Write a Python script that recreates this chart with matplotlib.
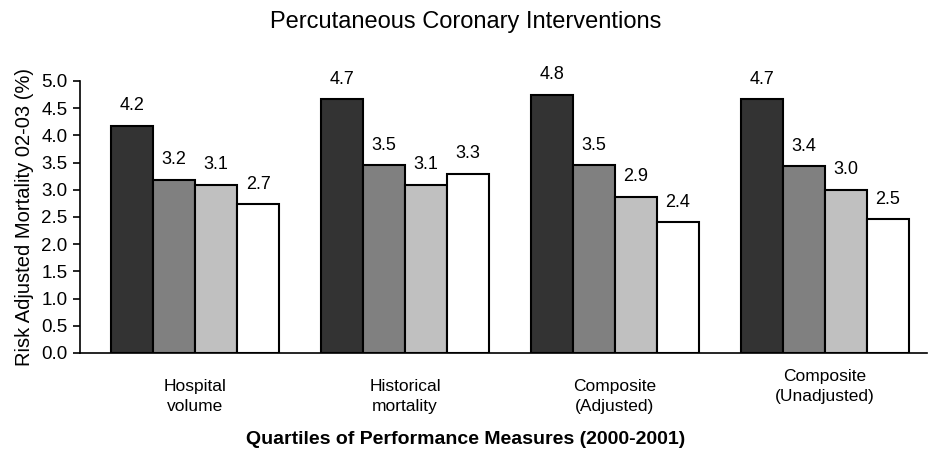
import matplotlib
matplotlib.use("Agg")
import matplotlib.pyplot as plt
import matplotlib.transforms as mtransforms
import numpy as np

plt.rcParams['font.family'] = ['Liberation Sans', 'DejaVu Sans']

# data
groups = ["Hospital\nvolume", "Historical\nmortality", "Composite\n(Adjusted)", "Composite\n(Unadjusted)"]
q1 = [4.18, 4.66, 4.75, 4.66]
q2 = [3.18, 3.45, 3.45, 3.43]
q3 = [3.09, 3.09, 2.87, 3.00]
q4 = [2.73, 3.29, 2.40, 2.46]
q1_lab = [4.2, 4.7, 4.8, 4.7]
q2_lab = [3.2, 3.5, 3.5, 3.4]
q3_lab = [3.1, 3.1, 2.9, 3.0]
q4_lab = [2.7, 3.3, 2.4, 2.5]

colors = ["#333333", "#808080", "#c0c0c0", "#ffffff"]

fig = plt.figure(figsize=(9.32, 4.55), dpi=100)
ax = fig.add_axes([0.0858, 0.2242, 0.9088, 0.5978])

x = np.arange(len(groups))
w = 0.2
series = [(q1, q1_lab), (q2, q2_lab), (q3, q3_lab), (q4, q4_lab)]
for i, (vals, labs) in enumerate(series):
    pos = x + (i - 1.5) * w
    ax.bar(pos, vals, width=w, color=colors[i], edgecolor="black", linewidth=1.5, zorder=2)
    for px, v, l in zip(pos, vals, labs):
        ax.annotate("%.1f" % l, (px, v), xytext=(0, 14.5), textcoords="offset points",
                    ha="center", va="center", fontsize=13)

ax.set_xlim(-0.548, 3.486)
ax.set_ylim(0, 5)
ax.set_yticks(np.arange(0, 5.01, 0.5))
ax.set_yticklabels(["%.1f" % t for t in np.arange(0, 5.01, 0.5)], fontsize=13.5)
ax.tick_params(axis="y", direction="out", length=5, width=1.2, pad=4)
ax.set_xticks([])
for s in ["top", "right"]:
    ax.spines[s].set_visible(False)
ax.spines["left"].set_linewidth(1.2)
ax.spines["bottom"].set_linewidth(1.2)

ax.set_ylabel("Risk Adjusted Mortality 02-03 (%)", fontsize=14.5, labelpad=5)

trans = mtransforms.blended_transform_factory(ax.transData, fig.transFigure)
name_y = [0.128, 0.128, 0.128, 0.15]
for gx, g, gy in zip(x, groups, name_y):
    fig.text(gx, gy, g, transform=trans, ha="center", va="center", fontsize=12.5,
             linespacing=1.45)

fig.text(0.5, 0.951, "Percutaneous Coronary Interventions", ha="center", va="center", fontsize=17)
fig.text(0.5, 0.035, "Quartiles of Performance Measures (2000-2001)", ha="center", va="center",
         fontsize=14, fontweight="bold")

fig.savefig("out.png", dpi=100)
